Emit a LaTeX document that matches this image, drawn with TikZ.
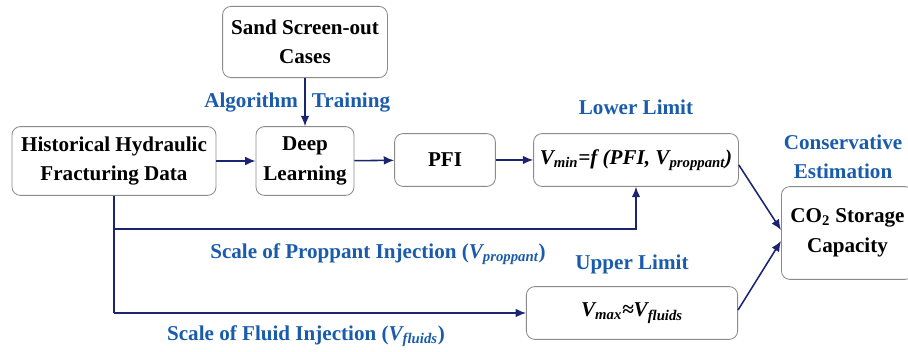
\documentclass[tikz,border=0pt]{standalone}
\usepackage{fontspec}
\setmainfont{Liberation Serif}
\usepackage{xcolor}
\usetikzlibrary{arrows.meta,calc,positioning}
\definecolor{Navy}{HTML}{1B2470}
\definecolor{LabelBlue}{HTML}{1A5CAB}
\definecolor{BoxLine}{HTML}{8A8A8A}
\newcommand{\bi}[1]{\textbf{\textit{#1}}}

\begin{document}
\begin{tikzpicture}[x=0.025cm,y=-0.025cm,every node/.style={font=\fontsize{15}{21}\selectfont\bfseries,align=center},box/.style={draw=BoxLine,fill=white,rounded corners=6pt,line width=0.6pt,inner sep=2pt},label/.style={text=LabelBlue},arrow/.style={-{Latex[length=2.6mm,width=2.2mm]},line width=1.1pt,draw=Navy}]
\useasboundingbox (0,0) rectangle (908,352);

\node[box,minimum width=4.12cm,minimum height=1.78cm] (sand) at (305,42) {Sand Screen-out\\Cases};
\node[box,minimum width=5.1cm,minimum height=1.72cm] (hist) at (114,161) {Historical Hydraulic\\Fracturing Data};
\node[box,minimum width=2.45cm,minimum height=1.72cm] (dl) at (305,161) {Deep\\Learning};
\node[box,minimum width=2.52cm,minimum height=1.32cm] (pfi) at (445,160) {PFI};
\node[box,minimum width=5.12cm,minimum height=1.32cm] (vmin) at (636,160) {\bi{V\textsubscript{min}=f (PFI, V\textsubscript{proppant})}};
\node[box,minimum width=5.28cm,minimum height=1.32cm] (vmax) at (632,313) {\bi{V\textsubscript{max}≈V\textsubscript{fluids}}};
\node[box,minimum width=3.3cm,minimum height=2.32cm,anchor=west] (co2) at (781,233) {CO\textsubscript{2} Storage\\Capacity};

\coordinate (split) at (114,229);
\coordinate (fork) at (hist.south |- vmax.west);

\draw[arrow] (sand) -- (dl) coordinate[midway] (train);
\node[label,anchor=east] at ($(train)+(-2,0)$) {Algorithm};
\node[label,anchor=west] at ($(train)+(2,0)$) {Training};
\draw[arrow] (hist) -- (dl);
\draw[arrow] (dl) -- (pfi);
\draw[arrow] (pfi) -- (vmin);
\draw[arrow,-] (hist.south) -- (fork);
\draw[arrow] (split) -| (vmin.south);
\draw[arrow] (fork) -- (vmax.west);
\draw[arrow] ($(vmin.east)+(0,5)$) -- ($(co2.west)+(0,-3)$);
\draw[arrow] ($(vmax.east)+(0,-3)$) -- ($(co2.west)+(0,8)$);

\node[label] (lower) at (636,107) {Lower Limit};
\node[label] (upper) at (632,264) {Upper Limit};
\node[label] (cons) at (843,157) {Conservative\\Estimation};
\node[label] (prop) at (378,254) {Scale of Proppant Injection (\textit{V\textsubscript{proppant}})};
\node[label] (fluid) at (306,336) {Scale of Fluid Injection (\textit{V\textsubscript{fluids}})};

\end{tikzpicture}
\end{document}
